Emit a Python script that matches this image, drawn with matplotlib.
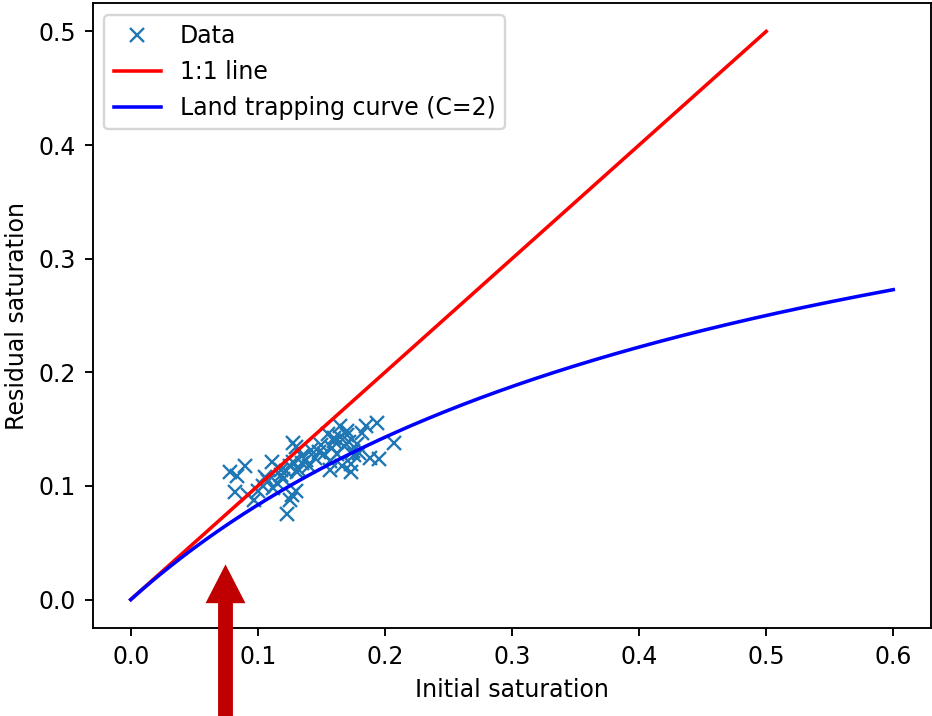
import numpy as np
import matplotlib
matplotlib.use("Agg")
import matplotlib.pyplot as plt
from matplotlib.patches import FancyArrow

# Measured initial / residual saturation pairs
initial_sat = [0.078, 0.090, 0.084, 0.082, 0.092, 0.097, 0.100, 0.104, 0.108, 0.112,
               0.115, 0.111, 0.118, 0.120, 0.122, 0.125, 0.128, 0.130, 0.127, 0.123,
               0.125, 0.130, 0.132, 0.135, 0.138, 0.140, 0.128, 0.131, 0.145, 0.148,
               0.150, 0.152, 0.155, 0.157, 0.158, 0.160, 0.162, 0.165, 0.165, 0.166,
               0.168, 0.170, 0.172, 0.173, 0.175, 0.176, 0.178, 0.180, 0.182, 0.185,
               0.188, 0.194, 0.195, 0.207, 0.157, 0.173, 0.142, 0.118, 0.106, 0.135,
               0.160, 0.170]
residual_sat = [0.112, 0.118, 0.109, 0.095, 0.092, 0.088, 0.096, 0.100, 0.104, 0.098,
                0.103, 0.121, 0.110, 0.106, 0.113, 0.118, 0.138, 0.134, 0.092, 0.075,
                0.088, 0.096, 0.115, 0.120, 0.123, 0.118, 0.121, 0.112, 0.125, 0.130,
                0.136, 0.128, 0.146, 0.122, 0.133, 0.140, 0.128, 0.153, 0.143, 0.118,
                0.135, 0.148, 0.139, 0.112, 0.131, 0.127, 0.137, 0.129, 0.147, 0.153,
                0.125, 0.155, 0.124, 0.138, 0.114, 0.119, 0.132, 0.114, 0.108, 0.126,
                0.142, 0.145]

land_c = 2
one_to_one_max = 0.5
curve_max = 0.6

dpi = 170
fig = plt.figure(figsize=(932 / dpi, 716 / dpi), dpi=dpi)
ax = fig.add_axes([92.6 / 932, 88 / 716, (931.4 - 92.6) / 932, (628 - 3) / 716])

ax.plot(initial_sat, residual_sat, "x", color="#1f77b4", label="Data")

s_line = np.linspace(0, one_to_one_max, 200)
ax.plot(s_line, s_line, color="red", label="1:1 line")

s_curve = np.linspace(0, curve_max, 300)
ax.plot(s_curve, s_curve / (1 + land_c * s_curve), color="blue",
        label=f"Land trapping curve (C={land_c})")

ax.set_xlabel("Initial saturation")
ax.set_ylabel("Residual saturation")
ax.legend(loc="upper left")

# Highlight arrow pointing up from below the x axis
arrow = FancyArrow(225.5 / dpi, 0.0, 0.0, (716 - 567) / dpi,
                   width=12.5 / dpi, head_width=36 / dpi, head_length=35 / dpi,
                   length_includes_head=True, color="#c00000",
                   transform=fig.dpi_scale_trans, zorder=10, clip_on=False)
fig.patches.append(arrow)

fig.savefig("out.png", dpi=dpi)
